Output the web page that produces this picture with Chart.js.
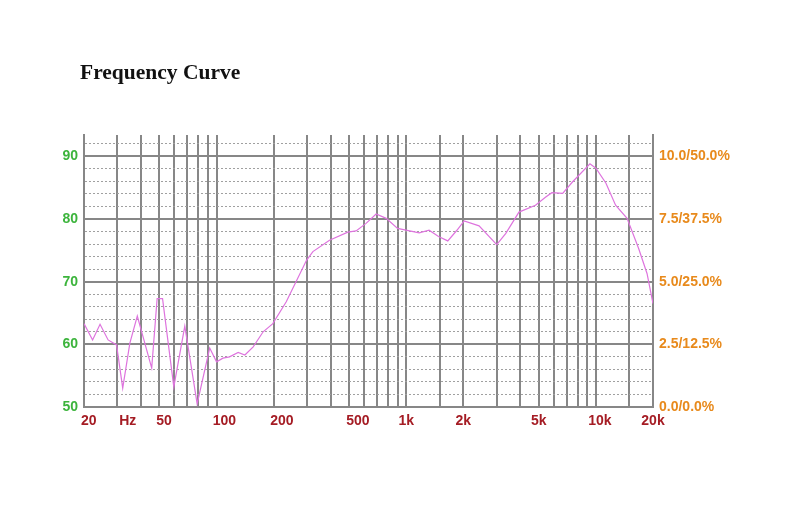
<!DOCTYPE html>
<html>
<head>
<meta charset="utf-8">
<script src="https://cdn.jsdelivr.net/npm/chart.js@4"></script>
<style>
  body { margin: 0; background: #fff; }
  #wrap { position: relative; width: 800px; height: 514px; }
  #titulo {
    position: absolute; left: 80px; top: 62px;
    font: bold 21.5px 'Liberation Serif', 'Times New Roman', serif;
    line-height: 21px; color: #111; white-space: nowrap;
  }
</style>
</head>
<body>
<div id="wrap">
  <div id="titulo">Frequency Curve</div>
  <canvas id="grafico"></canvas>
</div>
<script>
// dados da curva (Hz / dB)
const freqHz = [20, 22.2, 24.3, 26.8, 29.7, 32, 34.9, 38.2, 45.5, 48.6, 51.9, 59.5, 68, 79, 92,
  100, 108, 117, 130, 141, 156, 176, 198, 233, 298, 322, 394, 492, 544, 614, 694, 784, 900,
  1170, 1320, 1480, 1656, 1850, 2020, 2420, 3000, 3350, 3930, 4800, 5440, 5860, 6680, 7520,
  9300, 10000, 11300, 12700, 14600, 16800, 18600, 20000];
const nivelDb = [63.3, 60.7, 63.2, 60.7, 59.9, 53.0, 60.2, 64.5, 56.2, 67.3, 67.3, 53.2, 62.9, 50.5, 59.4,
  57.2, 57.8, 58.0, 58.7, 58.3, 59.6, 62.0, 63.3, 66.8, 73.4, 74.8, 76.6, 77.9, 78.1, 79.3, 80.8, 80.1, 78.5,
  77.8, 78.2, 77.2, 76.5, 78.2, 79.7, 78.9, 75.9, 77.7, 81.1, 82.2, 83.5, 84.2, 84.1, 85.9,
  88.8, 88.1, 85.7, 82.2, 80.1, 75.3, 71.3, 66.5];

// linhas verticais da grade
const gradeHz = [20, 30, 40, 50, 60, 70, 80, 90, 100, 200, 300, 400, 500, 600, 700, 800, 900,
  1000, 1500, 2000, 3000, 4000, 5000, 6000, 7000, 8000, 9000, 10000, 15000, 20000];
// rótulos do eixo x e onde ficam (em Hz) no desenho original
const rotuloTexto = ['20', 'Hz', '50', '100', '200', '500', '1k', '2k', '5k', '10k', '20k'];
const rotuloPosHz = [21.2, 34, 52.9, 110, 221, 556, 1000, 2000, 5000, 10500, 20000];

// eixo da direita
const direitaValores = [50, 60, 70, 80, 90];
const direitaTexto = ['0.0/0.0%', '2.5/12.5%', '5.0/25.0%', '7.5/37.5%', '10.0/50.0%'];

const fonteEixo = { family: "'Liberation Sans', Arial, sans-serif", size: 14, weight: 'bold' };
const cinza = '#878787';

const pontos = freqHz.map((f, i) => ({ x: f, y: nivelDb[i] }));
const todasX = Array.from(new Set(gradeHz.concat(rotuloPosHz))).sort((a, b) => a - b);

new Chart(document.getElementById('grafico'), {
  type: 'line',
  data: {
    datasets: [{
      data: pontos,
      borderColor: '#de74de',
      borderWidth: 1.2,
      pointRadius: 0,
      tension: 0,
      yAxisID: 'y'
    }]
  },
  options: {
    responsive: true,
    maintainAspectRatio: false,
    animation: false,
    layout: { padding: { top: 135, left: 0, right: 0, bottom: 0 } },
    plugins: { legend: { display: false }, tooltip: { enabled: false } },
    scales: {
      x: {
        type: 'logarithmic',
        min: 20,
        max: 20000,
        afterBuildTicks: s => { s.ticks = todasX.map(v => ({ value: v })); },
        afterFit: s => { s.height = 107; },
        ticks: {
          autoSkip: false,
          maxRotation: 0,
          padding: 6,
          color: '#a51c24',
          font: fonteEixo,
          callback: v => {
            const k = rotuloPosHz.indexOf(v);
            return k >= 0 ? rotuloTexto[k] : '';
          }
        },
        grid: {
          drawTicks: false,
          lineWidth: 2,
          color: c => (c.tick && gradeHz.indexOf(c.tick.value) < 0) ? 'rgba(0,0,0,0)' : cinza
        },
        border: { color: cinza, width: 2 }
      },
      y: {
        position: 'left',
        min: 50,
        max: 93.4,
        afterFit: s => { s.width = 84; },
        ticks: {
          stepSize: 2,
          maxTicksLimit: 40,
          autoSkip: false,
          includeBounds: false,
          padding: 6,
          color: '#3cb43c',
          font: fonteEixo,
          callback: v => (v % 10 === 0 ? String(v) : '')
        },
        grid: {
          drawTicks: false,
          color: c => (c.tick && c.tick.value % 10 === 0) ? cinza : '#a0a0a0',
          lineWidth: c => (c.tick && c.tick.value % 10 === 0) ? 2 : 1
        },
        border: {
          color: cinza,
          width: 2,
          dash: c => (c.tick && c.tick.value % 10 !== 0) ? [2, 2] : []
        }
      },
      y2: {
        position: 'right',
        min: 50,
        max: 93.4,
        afterFit: s => { s.width = 147; },
        ticks: {
          stepSize: 10,
          autoSkip: false,
          includeBounds: false,
          padding: 6,
          color: '#e88a1c',
          font: fonteEixo,
          callback: v => {
            const k = direitaValores.indexOf(v);
            return k >= 0 ? direitaTexto[k] : '';
          }
        },
        grid: { display: false, drawTicks: false },
        border: { color: cinza, width: 2 }
      }
    }
  }
});
</script>
</body>
</html>
